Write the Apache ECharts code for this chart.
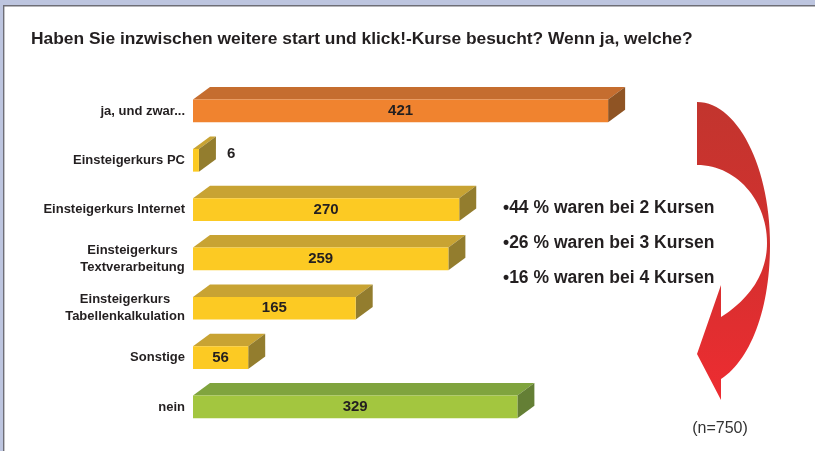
<!DOCTYPE html>
<html>
<head>
<meta charset="utf-8">
<script src="https://cdn.jsdelivr.net/npm/echarts@6/dist/echarts.min.js"></script>
<style>
html,body{margin:0;padding:0;background:#fff;}
#chart{width:815px;height:451px;}
</style>
</head>
<body>
<div id="chart"></div>
<script>
// ---- data ----
const titleText = 'Haben Sie inzwischen weitere start und klick!-Kurse besucht? Wenn ja, welche?';
const categories = ['ja, und zwar...', 'Einsteigerkurs PC', 'Einsteigerkurs Internet', 'Einsteigerkurs\nTextverarbeitung', 'Einsteigerkurs\nTabellenkalkulation', 'Sonstige', 'nein'];
const values = [421, 6, 270, 259, 165, 56, 329];
const bulletLines = ['\u202244 % waren bei 2 Kursen', '\u202226 % waren bei 3 Kursen', '\u202216 % waren bei 4 Kursen'];
const sampleNote = '(n=750)';

// ---- styles ----
const FONT = '"Liberation Sans", Arial, Helvetica, sans-serif';
const palette = {
  orange: { front: '#f0832f', top: '#c56d2f', side: '#8f5424' },
  yellow: { front: '#fcca23', top: '#c8a333', side: '#937d2e' },
  green:  { front: '#a3c63f', top: '#80a43e', side: '#647f35' }
};
function colorFor(i, n) { return i === 0 ? palette.orange : (i === n - 1 ? palette.green : palette.yellow); }
const DX = 17, DY = 12.5;

// measure text for centered multi-line labels
const mctx = document.createElement('canvas').getContext('2d');
mctx.font = 'bold 13px ' + FONT;
const rich = {};
categories.forEach((c, i) => {
  if (c.indexOf('\n') >= 0) {
    const w = Math.max.apply(null, c.split('\n').map(l => mctx.measureText(l).width));
    rich['c' + i] = { width: Math.ceil(w), align: 'center', fontSize: 13, fontWeight: 'bold', fontFamily: FONT, color: '#231f20', lineHeight: 17 };
  }
});

// decorative curved arrow outline (sampled cubic curves)
function cubic(p0, p1, p2, p3, n) {
  const out = [];
  for (let k = 1; k <= n; k++) {
    const t = k / n, u = 1 - t;
    out.push([
      u*u*u*p0[0] + 3*u*u*t*p1[0] + 3*u*t*t*p2[0] + t*t*t*p3[0],
      u*u*u*p0[1] + 3*u*u*t*p1[1] + 3*u*t*t*p2[1] + t*t*t*p3[1]
    ]);
  }
  return out;
}
const arrowPts = [[697, 102]]
  .concat(cubic([697, 102], [737, 102], [770, 166], [770, 245], 30))
  .concat(cubic([770, 245], [770, 310], [750, 360], [721, 379], 30))
  .concat([[721, 400], [697, 354], [721, 285], [721, 317]])
  .concat(cubic([721, 317], [748, 300], [767, 275], [767, 243], 30))
  .concat(cubic([767, 243], [767, 200], [736, 165], [697, 165], 30));

const chart = echarts.init(document.getElementById('chart'));
chart.setOption({
  animation: false,
  backgroundColor: '#ffffff',
  title: {
    text: titleText, left: 26, top: 26,
    textStyle: { fontSize: 17.4, fontWeight: 'bold', color: '#231f20', fontFamily: FONT }
  },
  grid: { left: 193, width: 493, top: 86.3, height: 345.3 },
  xAxis: { type: 'value', min: 0, max: 500, show: false },
  yAxis: {
    type: 'category', data: categories, inverse: true,
    axisLine: { show: false }, axisTick: { show: false }, splitLine: { show: false },
    axisLabel: {
      margin: 8, fontSize: 13, fontWeight: 'bold', fontFamily: FONT, color: '#231f20', lineHeight: 17,
      rich: rich,
      formatter: function (v, i) {
        if (v.indexOf('\n') >= 0) return v.split('\n').map(l => '{c' + i + '|' + l + '}').join('\n');
        return v;
      }
    }
  },
  series: [{
    type: 'custom',
    data: values.map((v, i) => [v, i]),
    encode: { x: 0, y: 1 },
    renderItem: function (params, api) {
      const i = params.dataIndex;
      const v = api.value(0);
      const s = api.coord([0, api.value(1)]);
      const e = api.coord([v, api.value(1)]);
      const h = api.size([0, 1])[1] * 0.46;
      const x0 = s[0], x1 = e[0], y0 = e[1] - h / 2, y1 = e[1] + h / 2;
      const col = colorFor(i, values.length);
      const children = [
        { type: 'polygon', shape: { points: [[x0, y0], [x0 + DX, y0 - DY], [x1 + DX, y0 - DY], [x1, y0]] }, style: { fill: col.top } },
        { type: 'polygon', shape: { points: [[x1, y0], [x1 + DX, y0 - DY], [x1 + DX, y1 - DY], [x1, y1]] }, style: { fill: col.side } },
        { type: 'rect', shape: { x: x0, y: y0, width: x1 - x0, height: h }, style: { fill: col.front } }
      ];
      const inside = (x1 - x0) > 30;
      children.push({
        type: 'text',
        style: {
          text: String(v),
          x: inside ? (x0 + x1) / 2 : x1 + DX + 11,
          y: inside ? e[1] : e[1] - DY / 2,
          textAlign: inside ? 'center' : 'left', textVerticalAlign: 'middle',
          font: 'bold 15px ' + FONT, fill: '#231f20'
        }
      });
      return { type: 'group', children: children };
    }
  }],
  graphic: [
    { type: 'rect', shape: { x: 0, y: 0, width: 815, height: 5 }, style: { fill: '#bdc5df' }, z: 10 },
    { type: 'rect', shape: { x: 0, y: 0, width: 3, height: 451 }, style: { fill: '#bdc5df' }, z: 10 },
    { type: 'rect', shape: { x: 3, y: 5, width: 812, height: 1.4 }, style: { fill: '#6e6e76' }, z: 10 },
    { type: 'rect', shape: { x: 3, y: 5, width: 1.4, height: 446 }, style: { fill: '#6e6e76' }, z: 10 },
    {
      type: 'polygon', z: 5,
      shape: { points: arrowPts },
      style: { fill: new echarts.graphic.LinearGradient(0, 0, 0, 1, [{ offset: 0, color: '#c2352e' }, { offset: 0.5, color: '#d3302f' }, { offset: 1, color: '#ee2c31' }]) }
    },
    ...bulletLines.map((t, k) => ({
      type: 'text', z: 6,
      style: { text: t, x: 503, y: [208, 243, 278][k], textVerticalAlign: 'middle', font: 'bold 17.5px ' + FONT, fill: '#231f20' }
    })),
    { type: 'text', z: 6, style: { text: sampleNote, x: 720, y: 429, textAlign: 'center', textVerticalAlign: 'middle', font: '16px ' + FONT, fill: '#333333' } }
  ]
});
</script>
</body>
</html>
